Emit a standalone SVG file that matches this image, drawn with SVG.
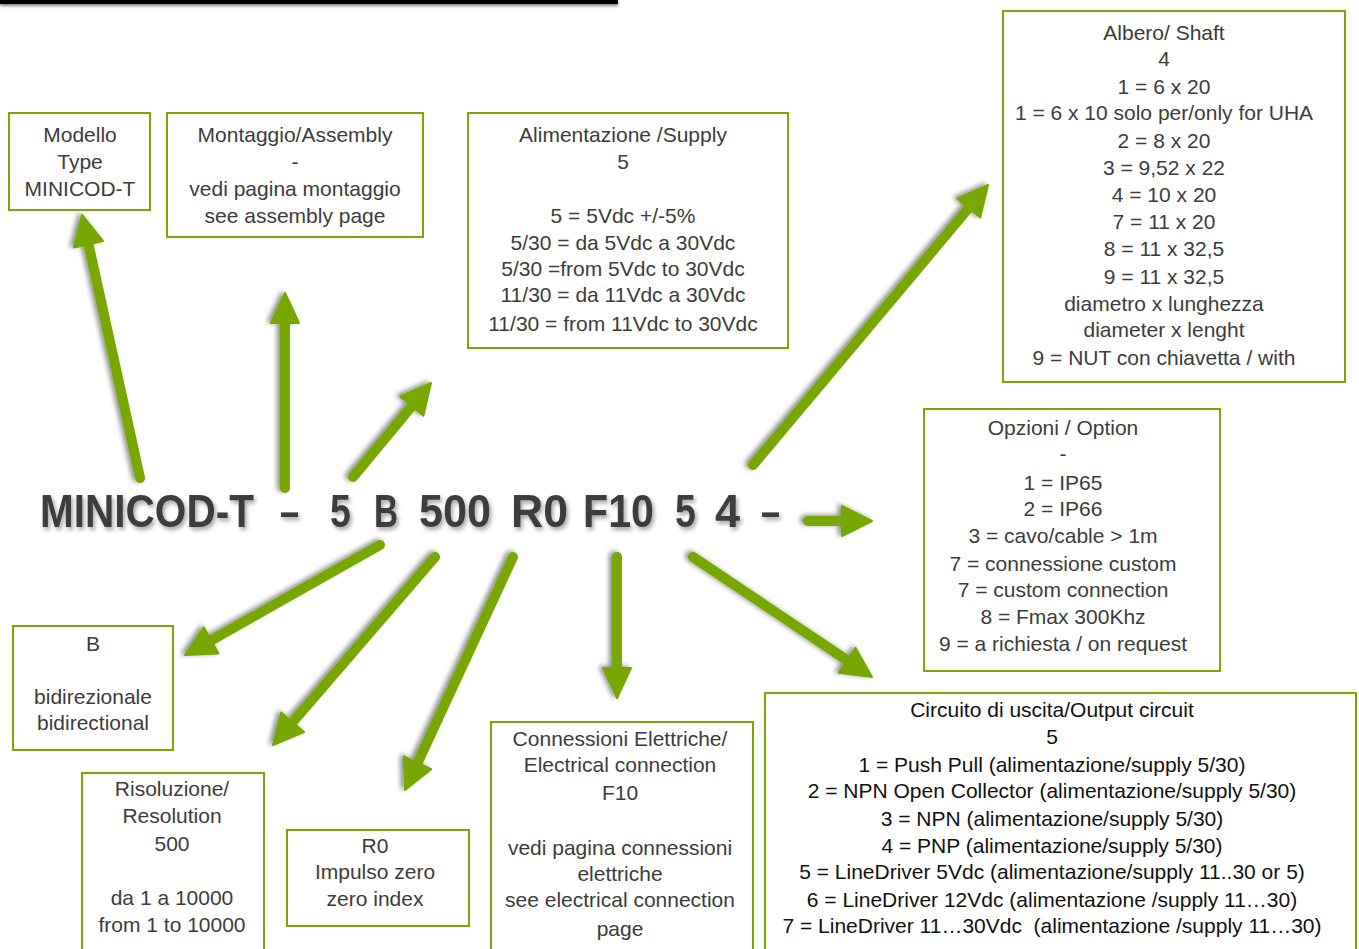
<svg xmlns="http://www.w3.org/2000/svg" width="1359" height="949" viewBox="0 0 1359 949">
<defs>
<filter id="ash" x="-20%" y="-20%" width="140%" height="140%">
<feDropShadow dx="-3" dy="-1" stdDeviation="2.5" flood-color="#000" flood-opacity="0.45"/>
</filter>
<filter id="tsh" x="-5%" y="-20%" width="110%" height="150%">
<feDropShadow dx="2" dy="3" stdDeviation="2" flood-color="#000" flood-opacity="0.35"/>
</filter>
<filter id="lsh" x="-5%" y="-100%" width="110%" height="400%">
<feDropShadow dx="0" dy="2" stdDeviation="1.5" flood-color="#000" flood-opacity="0.5"/>
</filter>
</defs>
<style>
.box{fill:#fff;stroke:#7aa800;stroke-width:2}
.t{font-family:"Liberation Sans",Arial,sans-serif;font-size:21px;fill:#3c3c3c;text-anchor:middle}
.tb{fill:#111}
.sh{stroke:#77a700;stroke-width:10;stroke-linecap:round;fill:none}
.hd{fill:#77a700;stroke:#77a700;stroke-width:2;stroke-linejoin:round}
.m{font-family:"Liberation Sans",Arial,sans-serif;font-size:47px;font-weight:bold;fill:#3e3e3e}
</style>
<rect x="0" y="0" width="618" height="4" fill="#000" filter="url(#lsh)"/>

<g id="title" filter="url(#tsh)">
<text class="m" transform="translate(40,527) scale(0.863,1)">MINICOD-T</text>
<text class="m" transform="translate(280,527) scale(0.73,1)">–</text>
<text class="m" transform="translate(330,527) scale(0.8,1)">5</text>
<text class="m" transform="translate(374,527) scale(0.71,1)">B</text>
<text class="m" transform="translate(419,527) scale(0.92,1)">500</text>
<text class="m" transform="translate(511,527) scale(0.95,1)">R0</text>
<text class="m" transform="translate(583,527) scale(0.877,1)">F10</text>
<text class="m" transform="translate(675,527) scale(0.8,1)">5</text>
<text class="m" transform="translate(715,527) scale(0.96,1)">4</text>
<text class="m" transform="translate(761,527) scale(0.73,1)">–</text>
</g>

<g id="connectors">
<g filter="url(#ash)">
<line class="sh" x1="140" y1="478" x2="87.6" y2="240.4"/>
<polygon class="hd" points="82,215 103.1,241.1 73.8,247.5"/>
</g>
<g filter="url(#ash)">
<line class="sh" x1="285" y1="488" x2="285" y2="319"/>
<polygon class="hd" points="285,293 299,323 271,323"/>
</g>
<g filter="url(#ash)">
<line class="sh" x1="353" y1="477" x2="414.4" y2="403"/>
<polygon class="hd" points="431,383 423.4,415.7 400.2,396.5"/>
</g>
<g filter="url(#ash)">
<line class="sh" x1="753" y1="465" x2="971.3" y2="204.9"/>
<polygon class="hd" points="988,185 980.2,217.6 957.2,198.4"/>
</g>
<g filter="url(#ash)">
<line class="sh" x1="808" y1="521" x2="846" y2="521"/>
<polygon class="hd" points="872,521 842,506 842,536"/>
</g>
<g filter="url(#ash)">
<line class="sh" x1="380" y1="545" x2="207.6" y2="642.3"/>
<polygon class="hd" points="185,655 203.7,627.2 218.5,653.4"/>
</g>
<g filter="url(#ash)">
<line class="sh" x1="435" y1="557" x2="290" y2="725.3"/>
<polygon class="hd" points="273,745 281.2,712.5 304,732.1"/>
</g>
<g filter="url(#ash)">
<line class="sh" x1="513" y1="557" x2="415.9" y2="766.4"/>
<polygon class="hd" points="405,790 404,756.5 431.2,769.1"/>
</g>
<g filter="url(#ash)">
<line class="sh" x1="617" y1="557" x2="617" y2="672"/>
<polygon class="hd" points="617,698 603,668 631,668"/>
</g>
<g filter="url(#ash)">
<line class="sh" x1="693" y1="557" x2="850.4" y2="662.5"/>
<polygon class="hd" points="872,677 838.7,672.8 855.5,647.8"/>
</g>
</g>

<g id="n-modello">
<rect class="box" x="9" y="113" width="141" height="97"/>
<text class="t" x="80" y="142">Modello</text>
<text class="t" x="80" y="169">Type</text>
<text class="t" x="80" y="196">MINICOD-T</text>
</g>

<g id="n-assembly">
<rect class="box" x="167" y="113" width="256" height="124"/>
<text class="t" x="295" y="142">Montaggio/Assembly</text>
<text class="t" x="295" y="169">-</text>
<text class="t" x="295" y="196">vedi pagina montaggio</text>
<text class="t" x="295" y="223">see assembly page</text>
</g>

<g id="n-supply">
<rect class="box" x="468" y="113" width="320" height="235"/>
<text class="t" x="623" y="142">Alimentazione /Supply</text>
<text class="t" x="623" y="169">5</text>
<text class="t" x="623" y="223">5 = 5Vdc +/-5%</text>
<text class="t" x="623" y="250">5/30 = da 5Vdc a 30Vdc</text>
<text class="t" x="623" y="276">5/30 =from 5Vdc to 30Vdc</text>
<text class="t" x="623" y="302">11/30 = da 11Vdc a 30Vdc</text>
<text class="t" x="623" y="331">11/30 = from 11Vdc to 30Vdc</text>
</g>

<g id="n-shaft">
<rect class="box" x="1003" y="11" width="342" height="371"/>
<text class="t" x="1164" y="40">Albero/ Shaft</text>
<text class="t" x="1164" y="66">4</text>
<text class="t" x="1164" y="94">1 = 6 x 20</text>
<text class="t" x="1164" y="120">1 = 6 x 10 solo per/only for UHA</text>
<text class="t" x="1164" y="148">2 = 8 x 20</text>
<text class="t" x="1164" y="175">3 = 9,52 x 22</text>
<text class="t" x="1164" y="202">4 = 10 x 20</text>
<text class="t" x="1164" y="229">7 = 11 x 20</text>
<text class="t" x="1164" y="256">8 = 11 x 32,5</text>
<text class="t" x="1164" y="284">9 = 11 x 32,5</text>
<text class="t" x="1164" y="311">diametro x lunghezza</text>
<text class="t" x="1164" y="337">diameter x lenght</text>
<text class="t" x="1164" y="365">9 = NUT con chiavetta / with</text>
</g>

<g id="n-option">
<rect class="box" x="924" y="409" width="296" height="262"/>
<text class="t" x="1063" y="435">Opzioni / Option</text>
<text class="t" x="1063" y="461">-</text>
<text class="t" x="1063" y="490">1 = IP65</text>
<text class="t" x="1063" y="516">2 = IP66</text>
<text class="t" x="1063" y="543">3 = cavo/cable &gt; 1m</text>
<text class="t" x="1063" y="571">7 = connessione custom</text>
<text class="t" x="1063" y="597">7 = custom connection</text>
<text class="t" x="1063" y="624">8 = Fmax 300Khz</text>
<text class="t" x="1063" y="651">9 = a richiesta / on request</text>
</g>

<g id="n-output">
<rect class="box" x="765" y="693" width="591" height="270"/>
<text class="t tb" x="1052" y="717">Circuito di uscita/Output circuit</text>
<text class="t tb" x="1052" y="744">5</text>
<text class="t tb" x="1052" y="772">1 = Push Pull (alimentazione/supply 5/30)</text>
<text class="t tb" x="1052" y="798">2 = NPN Open Collector (alimentazione/supply 5/30)</text>
<text class="t tb" x="1052" y="826">3 = NPN (alimentazione/supply 5/30)</text>
<text class="t tb" x="1052" y="853">4 = PNP (alimentazione/supply 5/30)</text>
<text class="t tb" x="1052" y="879">5 = LineDriver 5Vdc (alimentazione/supply 11..30 or 5)</text>
<text class="t tb" x="1052" y="907">6 = LineDriver 12Vdc (alimentazione /supply 11…30)</text>
<text class="t tb" x="1052" y="933" xml:space="preserve">7 = LineDriver 11…30Vdc  (alimentazione /supply 11…30)</text>
</g>

<g id="n-b">
<rect class="box" x="13" y="626" width="160" height="124"/>
<text class="t" x="93" y="651">B</text>
<text class="t" x="93" y="704">bidirezionale</text>
<text class="t" x="93" y="730">bidirectional</text>
</g>

<g id="n-resolution">
<rect class="box" x="82" y="773" width="182" height="190"/>
<text class="t" x="172" y="796">Risoluzione/</text>
<text class="t" x="172" y="823">Resolution</text>
<text class="t" x="172" y="851">500</text>
<text class="t" x="172" y="905">da 1 a 10000</text>
<text class="t" x="172" y="932">from 1 to 10000</text>
</g>

<g id="n-r0">
<rect class="box" x="287" y="830" width="182" height="96"/>
<text class="t" x="375" y="853">R0</text>
<text class="t" x="375" y="879">Impulso zero</text>
<text class="t" x="375" y="906">zero index</text>
</g>

<g id="n-connection">
<rect class="box" x="491" y="722" width="262" height="240"/>
<text class="t" x="620" y="746">Connessioni Elettriche/</text>
<text class="t" x="620" y="772">Electrical connection</text>
<text class="t" x="620" y="800">F10</text>
<text class="t" x="620" y="855">vedi pagina connessioni</text>
<text class="t" x="620" y="881">elettriche</text>
<text class="t" x="620" y="907">see electrical connection</text>
<text class="t" x="620" y="936">page</text>
</g>
</svg>
